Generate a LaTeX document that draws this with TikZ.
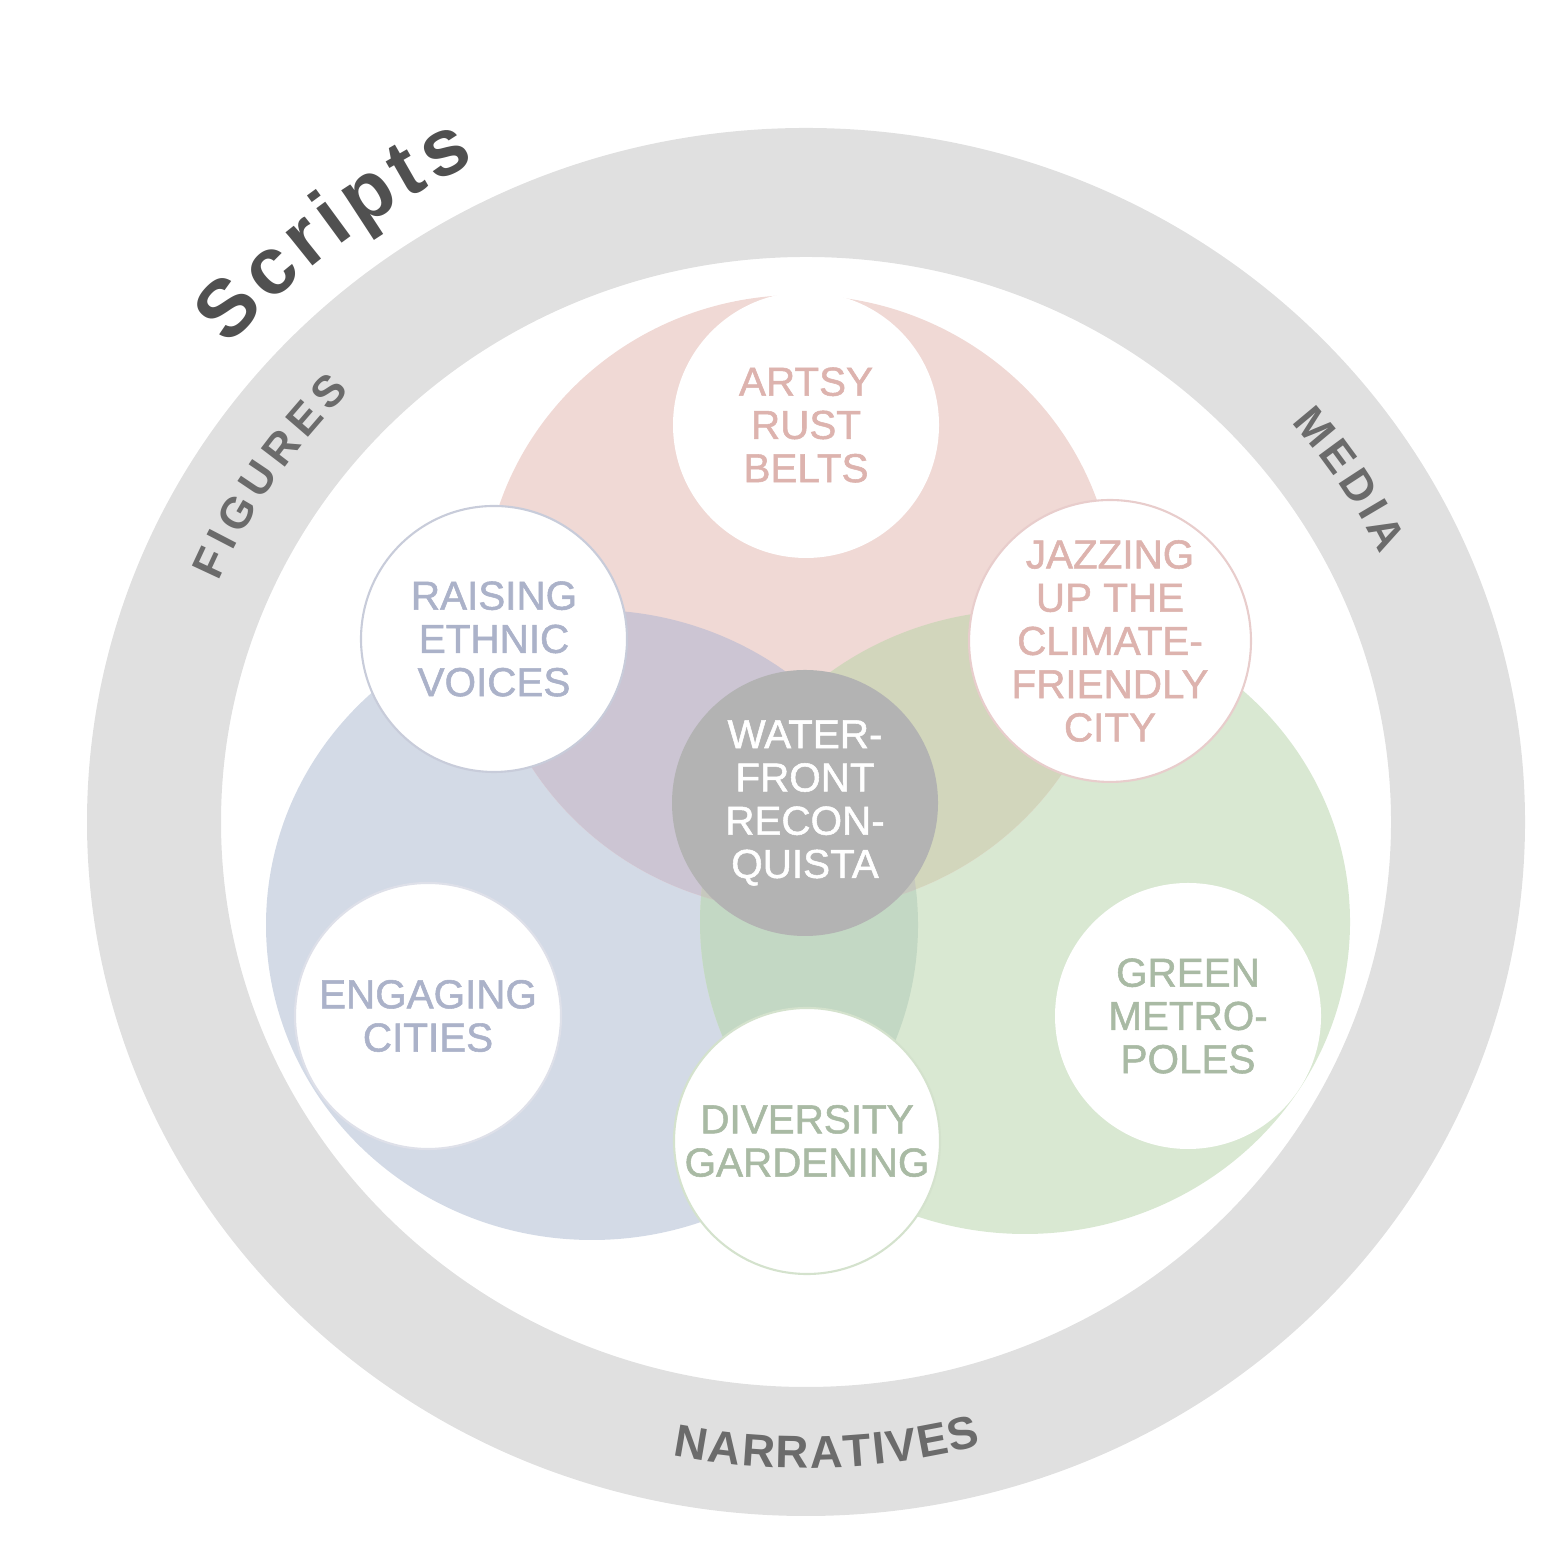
\documentclass[tikz,border=0pt]{standalone}
\usepackage{fontspec}
\setmainfont{Liberation Sans}
\newfontfamily\spotfamily[FakeBold=1.3]{Liberation Sans}
\usepackage{tikz}
\usetikzlibrary{decorations.text}

\definecolor{ringgray}{HTML}{E0E0E0}
\definecolor{ringtext}{HTML}{6B6B6B}
\definecolor{scriptstext}{HTML}{505050}
\definecolor{redfill}{HTML}{F0D9D5}
\definecolor{redtext}{HTML}{DDB3AE}
\definecolor{redline}{HTML}{E8CDCC}
\definecolor{bluefill}{HTML}{D3DAE6}
\definecolor{bluetext}{HTML}{ABB2C9}
\definecolor{blueline}{HTML}{C8CCDA}
\definecolor{greenfill}{HTML}{D9E8D2}
\definecolor{greentext}{HTML}{A9BAA4}
\definecolor{greenline}{HTML}{D4E2CD}
\definecolor{redblue}{HTML}{CCC5D3}
\definecolor{redgreen}{HTML}{D2D6BC}
\definecolor{bluegreen}{HTML}{C3D8C4}
\definecolor{allthree}{HTML}{C6C8BE}
\definecolor{hubgray}{HTML}{B3B3B3}

\newcommand{\spotfont}{\spotfamily\fontsize{11.5}{12.3}\selectfont}
\newcommand{\ringfont}{\bfseries\fontsize{12.5}{15}\selectfont}
\newcommand{\bigringfont}{\bfseries\fontsize{13}{15}\selectfont}
\newcommand{\scriptsfont}{\bfseries\fontsize{23}{27}\selectfont}

\begin{document}
\begin{tikzpicture}[spot/.style={circle, fill=white, line width=.6pt, minimum size=2.66cm, inner sep=0pt, align=center, font=\spotfont},
  ringlabel/.style={decorate, decoration={text along path, text align={fit to path}, text color=ringtext}},
  redsize/.style={x radius=3.16cm, y radius=3.08cm},
  bluesize/.style={x radius=3.26cm, y radius=3.15cm},
  greensize/.style={x radius=3.25cm, y radius=3.12cm}]

\useasboundingbox (0,0) rectangle (15.52,15.60);

\coordinate (ring) at (8.06,7.38);
\coordinate (red) at (7.99,9.57);
\coordinate (blue) at (5.92,6.35);
\coordinate (green) at (10.25,6.38);

% outer ring
\fill[ringgray, even odd rule] (ring) ellipse [x radius=7.19cm, y radius=6.94cm]
  (ring) ellipse [x radius=5.85cm, y radius=5.65cm];

% three big circles and their overlaps
\fill[bluefill] (blue) ellipse [bluesize];
\fill[greenfill] (green) ellipse [greensize];
\fill[redfill] (red) ellipse [redsize];
\begin{scope}
\clip (blue) ellipse [bluesize];
\fill[bluegreen] (green) ellipse [greensize];
\end{scope}
\begin{scope}
\clip (red) ellipse [redsize];
\fill[redblue] (blue) ellipse [bluesize];
\fill[redgreen] (green) ellipse [greensize];
\clip (blue) ellipse [bluesize];
\fill[allthree] (green) ellipse [greensize];
\end{scope}

% small circles
\node[spot, text=redtext] (artsy) at (8.06,11.35) {ARTSY\\RUST\\BELTS};
\node[spot, draw=blueline, text=bluetext] (raising) at (4.94,9.21) {RAISING\\ETHNIC\\VOICES};
\node[spot, draw=redline, text=redtext] (jazzing) at (11.10,9.19) {JAZZING\\UP THE\\CLIMATE-\\FRIENDLY\\CITY};
\node[spot, draw=blueline!60, text=bluetext] (engaging) at (4.28,5.44) {ENGAGING\\CITIES};
\node[spot, text=greentext] (metropoles) at (11.88,5.44) {GREEN\\METRO-\\POLES};
\node[spot, draw=greenline, text=greentext] (diversity) at (8.07,4.19) {DIVERSITY\\GARDENING};
\node[spot, fill=hubgray, text=white] (waterfront) at (8.05,7.57) {WATER-\\FRONT\\RECON-\\QUISTA};

% labels on the ring
\begin{scope}[shift={(ring)}]
\path[ringlabel, decoration={text={|\ringfont|FIGURES}}] (157:6.38cm and 6.155cm)
  arc [start angle=157, end angle=135.6, x radius=6.38cm, y radius=6.155cm];
\path[ringlabel, decoration={text={|\ringfont|MEDIA}}] (40.5:6.38cm and 6.155cm)
  arc [start angle=40.5, end angle=25.8, x radius=6.38cm, y radius=6.155cm];
\path[ringlabel, decoration={text={|\bigringfont|NARRATIVES}}] (258.5:6.69cm and 6.46cm)
  arc [start angle=258.5, end angle=285.2, x radius=6.69cm, y radius=6.46cm];
\path[ringlabel, decoration={text={|\scriptsfont|Scripts}, text color=scriptstext}] (139.5:7.59cm and 7.32cm)
  arc [start angle=139.5, end angle=115.8, x radius=7.59cm, y radius=7.32cm];
\end{scope}
\end{tikzpicture}
\end{document}
